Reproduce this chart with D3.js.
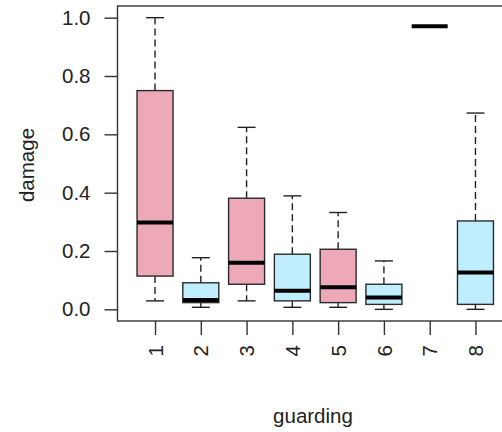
<!DOCTYPE html>
<html>
<head>
<meta charset="utf-8">
<script src="https://cdn.jsdelivr.net/npm/d3@7/dist/d3.min.js"></script>
<style>
  body { margin: 0; background: #fff; }
  svg { display: block; font-family: "Liberation Sans", Arial, sans-serif; }
</style>
</head>
<body>
<script>
// boxplot stats per guarding level
var categories = ["1", "2", "3", "4", "5", "6", "7", "8"];
var whiskerLow  = [0.029, 0.007, 0.029, 0.007, 0.007, 0.000, 0.971, 0.000];
var q1          = [0.114, 0.023, 0.086, 0.029, 0.023, 0.017, 0.971, 0.017];
var medians     = [0.298, 0.032, 0.160, 0.064, 0.076, 0.041, 0.971, 0.126];
var q3          = [0.750, 0.091, 0.381, 0.189, 0.206, 0.086, 0.971, 0.303];
var whiskerHigh = [1.000, 0.177, 0.624, 0.389, 0.332, 0.166, 0.971, 0.673];
var yTicks = [0, 0.2, 0.4, 0.6, 0.8, 1.0];

var width = 502, height = 432;
var fontSize = "20.5px";

var svg = d3.select("body").append("svg")
	.attr("width", width)
	.attr("height", height);

// R style: x from 0.5..n+0.5 plus 4% either side
var x = d3.scaleLinear().domain([0.18, 8.82]).range([117.5, 513]);
var y = d3.scaleLinear().domain([-0.04, 1.04]).range([321, 6]);

var fill = d3.scaleOrdinal().domain([0, 1]).range(["#eea9b8", "#bfefff"]);

var boxes = categories.map(function(c, i) {
	return { name: c, pos: i + 1, lo: whiskerLow[i], q1: q1[i], med: medians[i], q3: q3[i], hi: whiskerHigh[i] };
});

var half = x(1.393) - x(1);   // box half width
var cap = half / 2;

var g = svg.append("g")
	.selectAll("g")
	.data(boxes)
	.enter().append("g");

// whiskers
g.append("line")
	.attr("x1", function(d) { return x(d.pos); })
	.attr("x2", function(d) { return x(d.pos); })
	.attr("y1", function(d) { return y(d.q3); })
	.attr("y2", function(d) { return y(d.hi); })
	.attr("stroke", "#222").attr("stroke-width", 1.4)
	.attr("stroke-dasharray", "7,4");
g.append("line")
	.attr("x1", function(d) { return x(d.pos); })
	.attr("x2", function(d) { return x(d.pos); })
	.attr("y1", function(d) { return y(d.q1); })
	.attr("y2", function(d) { return y(d.lo); })
	.attr("stroke", "#222").attr("stroke-width", 1.4)
	.attr("stroke-dasharray", "7,4");

// staples
["hi", "lo"].forEach(function(k) {
	g.append("line")
		.attr("x1", function(d) { return x(d.pos) - cap; })
		.attr("x2", function(d) { return x(d.pos) + cap; })
		.attr("y1", function(d) { return y(d[k]); })
		.attr("y2", function(d) { return y(d[k]); })
		.attr("stroke", "#222").attr("stroke-width", 1.4);
});

// boxes
g.append("rect")
	.attr("x", function(d) { return x(d.pos) - half; })
	.attr("width", half * 2)
	.attr("y", function(d) { return y(d.q3); })
	.attr("height", function(d) { return y(d.q1) - y(d.q3); })
	.attr("fill", function(d, i) { return fill(i % 2); })
	.attr("stroke", "#2a2a2a").attr("stroke-width", 1.4);

// medians
g.append("line")
	.attr("x1", function(d) { return x(d.pos) - half; })
	.attr("x2", function(d) { return x(d.pos) + half; })
	.attr("y1", function(d) { return y(d.med); })
	.attr("y2", function(d) { return y(d.med); })
	.attr("stroke", "#000").attr("stroke-width", 4);

// plot frame
svg.append("rect")
	.attr("x", x.range()[0]).attr("y", y.range()[1])
	.attr("width", x.range()[1] - x.range()[0])
	.attr("height", y.range()[0] - y.range()[1])
	.attr("fill", "none").attr("stroke", "#333").attr("stroke-width", 1.4);

// y axis
var yAxis = svg.append("g")
	.attr("transform", "translate(" + x.range()[0] + ",0)")
	.call(d3.axisLeft(y).tickValues(yTicks).tickFormat(d3.format(".1f")).tickSize(13).tickSizeOuter(0).tickPadding(14));
yAxis.select(".domain").remove();
yAxis.selectAll("line").attr("stroke", "#333").attr("stroke-width", 1.4);
yAxis.selectAll("text").attr("fill", "#222").style("font-size", fontSize)
	.style("font-family", "'Liberation Sans', Arial, sans-serif");

// x axis
var xAxis = svg.append("g")
	.attr("transform", "translate(0," + y.range()[0] + ")")
	.call(d3.axisBottom(x).tickValues(d3.range(1, categories.length + 1))
		.tickFormat(function(d) { return categories[d - 1]; })
		.tickSize(14).tickSizeOuter(0));
xAxis.select(".domain").remove();
xAxis.selectAll("line").attr("stroke", "#333").attr("stroke-width", 1.4);
xAxis.selectAll("text")
	.attr("fill", "#222")
	.style("font-size", fontSize)
	.style("font-family", "'Liberation Sans', Arial, sans-serif")
	.attr("transform", "rotate(-90)")
	.attr("y", 0)
	.attr("x", -24)
	.attr("dy", "0.35em")
	.style("text-anchor", "end");

// axis titles
svg.append("text")
	.attr("x", 313).attr("y", 423)
	.attr("text-anchor", "middle")
	.attr("fill", "#222")
	.style("font-size", fontSize)
	.text("guarding");

svg.append("text")
	.attr("transform", "translate(34,165) rotate(-90)")
	.attr("text-anchor", "middle")
	.attr("fill", "#222")
	.style("font-size", fontSize)
	.text("damage");
</script>
</body>
</html>
